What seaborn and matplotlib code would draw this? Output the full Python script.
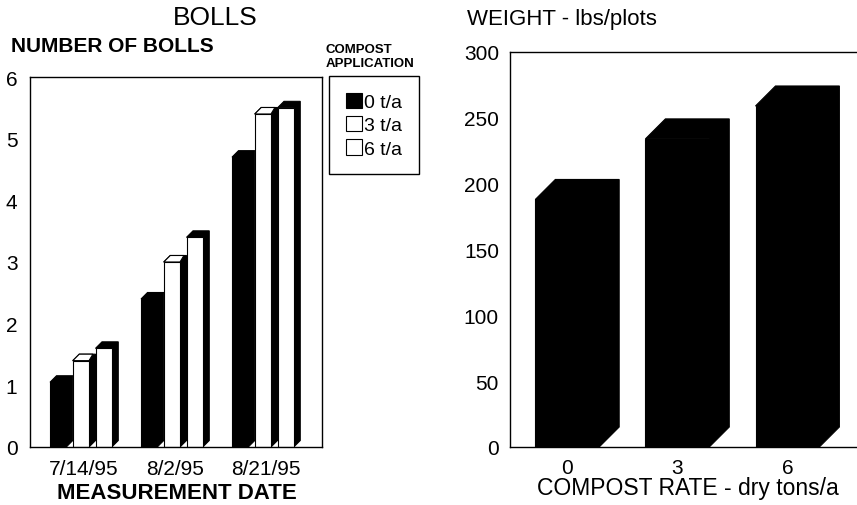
import numpy as np
import pandas as pd
import matplotlib
matplotlib.use("Agg")
import matplotlib.pyplot as plt
import seaborn as sns
from matplotlib.patches import Polygon

# ===================== 数据 =====================
dates = ["7/14/95", "8/2/95", "8/21/95"]
rates = ["0 t/a", "3 t/a", "6 t/a"]
bolls_0 = [1.05, 2.4, 4.7]
bolls_3 = [1.4, 3.0, 5.4]
bolls_6 = [1.6, 3.4, 5.5]

compost_rate = ["0", "3", "6"]
weight = [188, 234, 259]

W, H = 857, 506

sns.set_theme(style="white")
plt.rcParams['font.family'] = ['Liberation Sans', 'DejaVu Sans']
plt.rcParams['text.color'] = 'black'


def px(x, y):
    return x / W, 1 - y / H


# 3D效果：给每个柱子加侧面和顶面
def add_depth(ax, bars, dx_px, dy_px, shrink=False, top_face=None):
    pos = ax.get_position()
    x0, x1 = ax.get_xlim()
    y0, y1 = ax.get_ylim()
    dx = dx_px / (pos.width * W) * (x1 - x0)
    dy = dy_px / (pos.height * H) * (y1 - y0)
    for b in bars:
        if shrink:
            b.set_width(b.get_width() - dx)
        bx, bw, bh = b.get_x(), b.get_width(), b.get_height()
        xl, xr = bx, bx + bw
        poly = [(xl, bh), (xl + dx, bh + dy), (xr + dx, bh + dy),
                (xr + dx, dy), (xr, 0), (xr, bh)]
        ax.add_patch(Polygon(poly, closed=True, facecolor="black",
                             edgecolor="black", lw=0.8, zorder=0.9))
        if top_face is not None:
            top = [(xl, bh), (xl + dx, bh + dy), (xr + dx * 0.6, bh + dy), (xr, bh)]
            ax.add_patch(Polygon(top, closed=True, facecolor=top_face,
                                 edgecolor="black", lw=0.8, zorder=0.95))


fig = plt.figure(figsize=(W / 100, H / 100), dpi=100)
ax1 = fig.add_axes([30 / W, 58 / H, 292 / W, 370 / H])
ax2 = fig.add_axes([510 / W, 58 / H, 360 / W, 395 / H])

# ===================== 左图：BOLLS =====================
df = pd.DataFrame({
    "date": dates * 3,
    "rate": np.repeat(rates, 3),
    "bolls": bolls_0 + bolls_3 + bolls_6,
})
sns.barplot(data=df, x="date", y="bolls", hue="rate", order=dates,
            hue_order=rates, palette=["black", "white", "white"],
            saturation=1, width=0.75, edgecolor="black", linewidth=0.8,
            errorbar=None, ax=ax1)
ax1.set_xlim(-0.595, 2.614)
ax1.set_ylim(0, 6)
ax1.set_yticks(range(0, 7))
ax1.set_xlabel("")
ax1.set_ylabel("")
ax1.tick_params(length=0, labelsize=15, pad=9, colors="black")
for s in ax1.spines.values():
    s.set_color("black")
    s.set_linewidth(1)

for rate, cont in zip(rates, ax1.containers):
    add_depth(ax1, cont.patches, 6.5, 6.5, shrink=True,
              top_face="white" if rate == "3 t/a" else None)

sns.move_legend(ax1, "upper left", bbox_to_anchor=px(329, 77),
                bbox_transform=fig.transFigure, title=None, frameon=True,
                fancybox=False, edgecolor="black", framealpha=1,
                fontsize=14, handlelength=0.85, handleheight=0.85,
                handletextpad=0.12, borderpad=0.85, labelspacing=0.25,
                borderaxespad=0)
leg = ax1.get_legend()
leg.get_frame().set_linewidth(1)
for h in leg.legend_handles:
    h.set_edgecolor("black")
    h.set_linewidth(0.8)

fig.text(*px(215, 18), "BOLLS", ha="center", va="center", fontsize=19)
fig.text(*px(11, 47), "NUMBER OF BOLLS", ha="left", va="center",
         fontsize=15, fontweight="bold")
fig.text(*px(326, 57), "COMPOST\nAPPLICATION", ha="left", va="center",
         fontsize=9.5, fontweight="bold", linespacing=1.3)
fig.text(*px(177, 494), "MEASUREMENT DATE", ha="center", va="center",
         fontsize=16, fontweight="bold")

# ===================== 右图：WEIGHT =====================
sns.barplot(x=compost_rate, y=weight, color="black", saturation=1,
            width=0.58, edgecolor="black", linewidth=0.8, ax=ax2)
ax2.set_xlim(-0.52, 2.75)
ax2.set_ylim(0, 300)
ax2.set_yticks(range(0, 301, 50))
ax2.tick_params(length=0, labelsize=15, pad=8, colors="black")
for s in ax2.spines.values():
    s.set_color("black")
    s.set_linewidth(1)
add_depth(ax2, ax2.containers[0].patches, 20, 20)

fig.text(*px(467, 20), "WEIGHT - lbs/plots", ha="left", va="center", fontsize=16)
fig.text(*px(688, 489), "COMPOST RATE - dry tons/a", ha="center", va="center",
         fontsize=16.5)

fig.savefig("out.png", dpi=100, facecolor="white")
